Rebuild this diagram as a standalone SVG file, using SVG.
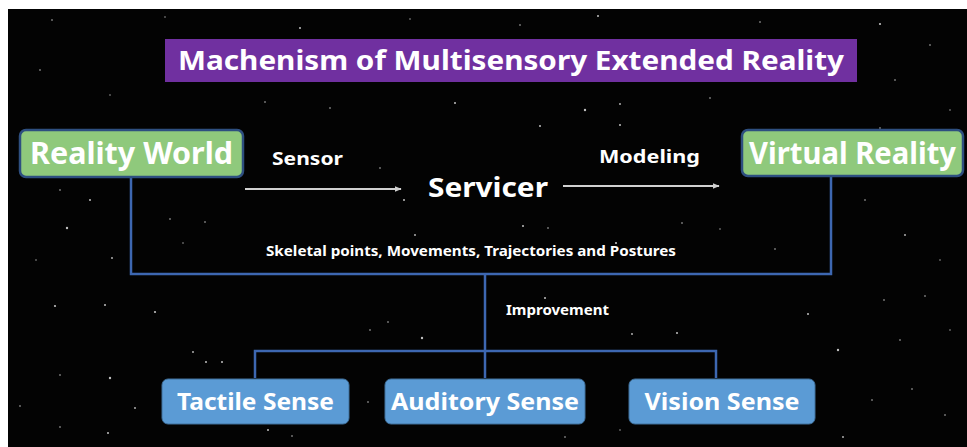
<svg xmlns="http://www.w3.org/2000/svg" width="967" height="447" viewBox="0 0 967 447">
<defs>
<style>
.t{font-family:"Noto Sans","Open Sans","DejaVu Sans",sans-serif;font-weight:bold;fill:#ffffff}
.green{fill:#8FC97C;stroke:#2E4F80;stroke-width:2.5}
.blue{fill:#5B9BD5;stroke:#41719C;stroke-width:1}
.conn{fill:none;stroke:#3D67B1;stroke-width:2.5}
.arr{fill:none;stroke:#D0D0D0;stroke-width:2}
.s{fill:#ffffff}
</style>
<marker id="ah" viewBox="0 0 10 10" refX="9" refY="5" markerWidth="7" markerHeight="7" orient="auto" markerUnits="userSpaceOnUse">
<path d="M0,1 L10,5 L0,9 Z" fill="#D0D0D0"/>
</marker>
</defs>
<rect width="967" height="447" fill="#ffffff"/>
<rect x="8" y="9" width="959" height="438" fill="#030303"/>
<g id="stars" opacity="0.75">
<circle class="s" cx="52" cy="20" r="0.8"/><circle class="s" cx="165" cy="17" r="0.7"/><circle class="s" cx="300" cy="28" r="1"/><circle class="s" cx="410" cy="19" r="0.7"/><circle class="s" cx="520" cy="25" r="0.8"/><circle class="s" cx="598" cy="16" r="1"/><circle class="s" cx="760" cy="22" r="0.8"/><circle class="s" cx="880" cy="24" r="1.1"/><circle class="s" cx="930" cy="45" r="0.8"/><circle class="s" cx="40" cy="70" r="0.8"/><circle class="s" cx="110" cy="95" r="0.7"/><circle class="s" cx="895" cy="80" r="0.8"/><circle class="s" cx="950" cy="110" r="0.7"/><circle class="s" cx="265" cy="102" r="0.8"/><circle class="s" cx="330" cy="108" r="0.8"/><circle class="s" cx="455" cy="103" r="1"/><circle class="s" cx="585" cy="110" r="1.2"/><circle class="s" cx="620" cy="104" r="0.9"/><circle class="s" cx="710" cy="98" r="0.8"/><circle class="s" cx="540" cy="126" r="1"/><circle class="s" cx="620" cy="125" r="1"/><circle class="s" cx="880" cy="128" r="0.8"/><circle class="s" cx="60" cy="190" r="0.8"/><circle class="s" cx="90" cy="200" r="1"/><circle class="s" cx="67" cy="228" r="1.2"/><circle class="s" cx="112" cy="258" r="0.9"/><circle class="s" cx="36" cy="260" r="0.7"/><circle class="s" cx="170" cy="219" r="0.8"/><circle class="s" cx="205" cy="222" r="0.8"/><circle class="s" cx="183" cy="243" r="0.7"/><circle class="s" cx="380" cy="168" r="0.8"/><circle class="s" cx="404" cy="200" r="1"/><circle class="s" cx="415" cy="235" r="0.9"/><circle class="s" cx="523" cy="226" r="1"/><circle class="s" cx="548" cy="228" r="0.8"/><circle class="s" cx="616" cy="243" r="1.1"/><circle class="s" cx="682" cy="223" r="0.8"/><circle class="s" cx="720" cy="229" r="0.7"/><circle class="s" cx="775" cy="249" r="0.8"/><circle class="s" cx="865" cy="200" r="0.8"/><circle class="s" cx="905" cy="235" r="0.9"/><circle class="s" cx="940" cy="260" r="0.7"/><circle class="s" cx="884" cy="300" r="0.8"/><circle class="s" cx="925" cy="296" r="0.8"/><circle class="s" cx="950" cy="330" r="0.7"/><circle class="s" cx="55" cy="306" r="1.1"/><circle class="s" cx="105" cy="305" r="1"/><circle class="s" cx="155" cy="312" r="1.1"/><circle class="s" cx="110" cy="378" r="1.2"/><circle class="s" cx="60" cy="375" r="0.8"/><circle class="s" cx="20" cy="406" r="0.8"/><circle class="s" cx="135" cy="408" r="0.9"/><circle class="s" cx="60" cy="427" r="0.8"/><circle class="s" cx="108" cy="433" r="1"/><circle class="s" cx="193" cy="352" r="0.9"/><circle class="s" cx="206" cy="362" r="1"/><circle class="s" cx="222" cy="362" r="1"/><circle class="s" cx="268" cy="430" r="1"/><circle class="s" cx="292" cy="436" r="0.8"/><circle class="s" cx="370" cy="330" r="0.8"/><circle class="s" cx="422" cy="338" r="1.2"/><circle class="s" cx="388" cy="322" r="0.8"/><circle class="s" cx="545" cy="298" r="1"/><circle class="s" cx="632" cy="334" r="0.9"/><circle class="s" cx="677" cy="333" r="1"/><circle class="s" cx="808" cy="314" r="1"/><circle class="s" cx="838" cy="350" r="1.2"/><circle class="s" cx="900" cy="340" r="0.8"/><circle class="s" cx="872" cy="400" r="0.8"/><circle class="s" cx="912" cy="389" r="0.8"/><circle class="s" cx="945" cy="415" r="0.8"/><circle class="s" cx="843" cy="437" r="0.9"/><circle class="s" cx="565" cy="437" r="0.8"/><circle class="s" cx="620" cy="430" r="0.7"/><circle class="s" cx="368" cy="402" r="0.8"/></g>
<g id="connectors">
<path class="conn" d="M131,177 V274 H831 V177"/>
<path class="conn" d="M485,274 V378"/>
<path class="conn" d="M255,378 V351 H716 V378"/>
<line class="arr" x1="245" y1="189" x2="401" y2="189" marker-end="url(#ah)"/>
<line class="arr" x1="563" y1="186" x2="719" y2="186" marker-end="url(#ah)"/>
<text class="t" x="272" y="165" font-size="17" textLength="71" lengthAdjust="spacingAndGlyphs">Sensor</text>
<text class="t" x="599" y="163" font-size="17" textLength="101" lengthAdjust="spacingAndGlyphs">Modeling</text>
<text class="t" x="266" y="256" font-size="13.5" textLength="410" lengthAdjust="spacingAndGlyphs">Skeletal points, Movements, Trajectories and Postures</text>
<text class="t" x="506" y="315" font-size="13.5" textLength="103" lengthAdjust="spacingAndGlyphs">Improvement</text>
</g>
<g id="title">
<rect x="165" y="39" width="692" height="43" fill="#7030A0"/>
<text class="t" x="511" y="70" font-size="26" text-anchor="middle" textLength="666" lengthAdjust="spacingAndGlyphs">Machenism of Multisensory Extended Reality</text>
</g>
<g id="reality-world">
<rect class="green" x="20" y="130" width="223" height="47" rx="6"/>
<text class="t" x="131.5" y="164" font-size="30" text-anchor="middle" textLength="203" lengthAdjust="spacingAndGlyphs">Reality World</text>
</g>
<g id="servicer">
<text class="t" x="488" y="197" font-size="27" text-anchor="middle" textLength="120" lengthAdjust="spacingAndGlyphs">Servicer</text>
</g>
<g id="virtual-reality">
<rect class="green" x="742" y="130" width="221" height="46" rx="6"/>
<text class="t" x="852.5" y="164" font-size="30" text-anchor="middle" textLength="207" lengthAdjust="spacingAndGlyphs">Virtual Reality</text>
</g>
<g id="tactile-sense">
<rect class="blue" x="162" y="379" width="187" height="45" rx="6"/>
<text class="t" x="255.5" y="410" font-size="24" text-anchor="middle" textLength="157" lengthAdjust="spacingAndGlyphs">Tactile Sense</text>
</g>
<g id="auditory-sense">
<rect class="blue" x="385" y="379" width="200" height="45" rx="6"/>
<text class="t" x="485" y="410" font-size="24" text-anchor="middle" textLength="188" lengthAdjust="spacingAndGlyphs">Auditory Sense</text>
</g>
<g id="vision-sense">
<rect class="blue" x="629" y="379" width="186" height="45" rx="6"/>
<text class="t" x="722" y="410" font-size="24" text-anchor="middle" textLength="155" lengthAdjust="spacingAndGlyphs">Vision Sense</text>
</g>
</svg>
